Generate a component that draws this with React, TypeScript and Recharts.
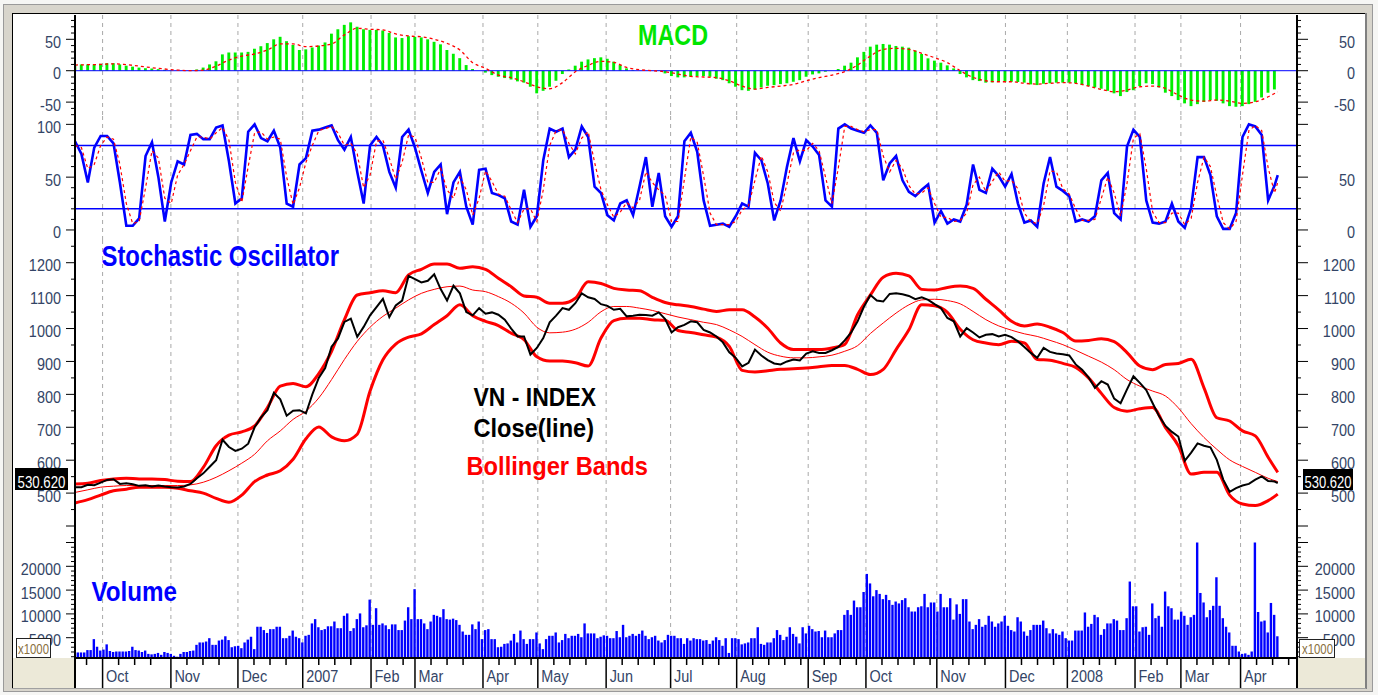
import React from 'react';
import { ComposedChart, Bar, Line, XAxis, YAxis, CartesianGrid, ReferenceLine } from 'recharts';

// x is the trading-session index, 0 = first session on the chart (Sep 2006)
const END_DAY = 375;
const DAY_MAX = 381;

const MONTH_DAYS = [8.6, 29.9, 50.8, 71.0, 92.3, 106.0, 127.2, 144.3, 165.6, 185.7, 206.3, 228.6, 246.6, 268.7, 290.1, 309.4, 330.5, 344.8, 363.4];
const MONTH_LABELS = ['Oct', 'Nov', 'Dec', '2007', 'Feb', 'Mar', 'Apr', 'May', 'Jun', 'Jul', 'Aug', 'Sep', 'Oct', 'Nov', 'Dec', '2008', 'Feb', 'Mar', 'Apr'];

// VN-Index close, every 2 sessions (last = final close)
const CLOSE = [
  518, 518, 525, 524, 532, 540, 542, 528, 530, 527, 522, 524, 520, 523, 520, 518, 517, 520, 528, 545,
  560, 580, 600, 662, 640, 628, 635, 650, 700, 730, 752, 805, 785, 735, 750, 752, 742, 800, 850, 880,
  945, 970, 1020, 1030, 975, 1005, 1040, 1065, 1090, 1035, 1070, 1085, 1160, 1150, 1140, 1145, 1165, 1120, 1085, 1130,
  1107, 1050, 1040, 1062, 1045, 1049, 1042, 1027, 1000, 976, 976, 921, 941, 971, 1019, 1039, 1062, 1057, 1077, 1107,
  1095, 1090, 1074, 1069, 1057, 1060, 1037, 1039, 1042, 1041, 1039, 1049, 1029, 988, 1004, 1011, 1022, 1019, 996, 988,
  976, 958, 928, 911, 885, 896, 936, 918, 904, 894, 891, 900, 906, 903, 924, 931, 926, 926, 934, 944,
  964, 988, 1022, 1067, 1102, 1085, 1082, 1105, 1107, 1104, 1099, 1089, 1095, 1087, 1074, 1062, 1032, 1022, 976, 1001,
  988, 973, 981, 983, 976, 981, 974, 961, 944, 926, 911, 941, 929, 924, 922, 918, 891, 875, 852, 820,
  840, 830, 787, 773, 815, 855, 835, 813, 773, 734, 704, 686, 672, 598, 623, 651, 644, 639, 601, 541,
  504, 515, 523, 528, 541, 551, 537, 535, 530.62,
];

// Bollinger bands, every 4 sessions
const BB_UPPER = [
  528, 530, 538, 543, 545, 543, 543, 541, 536, 535, 578, 644, 676, 686, 704, 760, 825, 833, 823, 863,
  931, 1027, 1102, 1109, 1115, 1109, 1163, 1180, 1196, 1196, 1183, 1188, 1180, 1153, 1127, 1099, 1095, 1077, 1077, 1092,
  1142, 1137, 1122, 1117, 1115, 1095, 1079, 1072, 1067, 1059, 1052, 1057, 1057, 1035, 1001, 956, 936, 936, 936, 941,
  952, 1042, 1102, 1156, 1168, 1160, 1119, 1117, 1125, 1129, 1122, 1089, 1057, 1022, 1008, 1014, 1004, 988, 962, 964,
  969, 960, 927, 886, 875, 891, 894, 907, 820, 729, 719, 689, 674, 609, 563,
];
const BB_MID = [
  502, 510, 518, 521, 523, 523, 523, 523, 523, 525, 533, 548, 568, 591, 618, 659, 689, 724, 749, 789,
  845, 906, 961, 1004, 1037, 1062, 1087, 1107, 1119, 1127, 1129, 1117, 1112, 1097, 1077, 1047, 1004, 987, 989, 998,
  1019, 1051, 1067, 1067, 1062, 1055, 1045, 1035, 1027, 1019, 1012, 996, 976, 951, 928, 916, 911, 911, 914, 919,
  931, 948, 985, 1017, 1047, 1072, 1087, 1089, 1085, 1075, 1052, 1027, 1008, 995, 984, 976, 964, 951, 934, 916,
  898, 875, 845, 825, 810, 795, 759, 711, 669, 633, 601, 581, 563, 545, 535,
];
const BB_LOWER = [
  470, 480, 494, 507, 512, 518, 518, 518, 515, 507, 500, 484, 472, 494, 535, 555, 568, 603, 665, 701,
  671, 659, 679, 810, 905, 953, 974, 984, 1012, 1039, 1072, 1039, 1022, 1009, 986, 966, 914, 901, 901, 896,
  886, 971, 1024, 1031, 1031, 1027, 1025, 994, 988, 981, 974, 946, 873, 868, 872, 876, 878, 880, 884, 888,
  888, 876, 860, 876, 936, 996, 1072, 1069, 1049, 998, 966, 956, 951, 961, 956, 906, 904, 894, 882, 850,
  803, 760, 749, 756, 760, 699, 644, 558, 563, 563, 494, 467, 462, 477, 497,
];

// MACD histogram, every 2 sessions
const MACD = [
  10, 10, 10, 10, 11, 12, 12, 10, 8, 6.5, 5, 4, 3.5, 2.5, 1.5, 0.5, 0, 0, 0.5, 2,
  5, 10, 15, 26, 29, 29, 29, 30, 35, 39, 44, 50, 54, 47, 41, 33, 34, 37, 40, 45,
  59, 66, 73, 77, 70, 66, 65, 65, 64, 60, 53, 52, 55, 54, 53, 50, 46, 42, 33, 27,
  20, 9, 2.7, 0, -3, -7, -9.6, -11.7, -13.8, -17, -19, -25.5, -36, -32, -25.5, -16, -5.3, 2, 8, 14.4,
  18, 20, 21.3, 19, 14.4, 9, 3.7, 1, 0, 0, 0, -0.5, -4.3, -8.5, -10.6, -10.6, -9.6, -8.5, -8.5, -9.6,
  -12.8, -15, -20, -25.5, -31, -32, -30, -26.6, -24, -23, -21.3, -20, -17.6, -15, -9.6, -5.9, -4.3, -1.6, 0, 2.7,
  8, 12.8, 21.3, 30, 38.3, 41.5, 42.6, 41.5, 39.4, 38.3, 36.7, 32, 26.6, 19.7, 16, 12.8, 8.5, 3.7, -5.3, -10.6,
  -15, -16.5, -19, -18.6, -17.6, -17.6, -17.6, -18, -19, -21.8, -22.9, -20.7, -20, -19, -19, -19, -20, -22.9, -24.5, -26.6,
  -28.7, -32, -36, -40.4, -34, -31, -24.5, -20, -21.3, -26.6, -35, -40.4, -46.8, -52, -56.4, -53.2, -49.5, -46.8, -47.9, -52,
  -56.4, -57.4, -56.4, -53.2, -49.5, -42.6, -35, -29.8,
];
// MACD signal, every 4 sessions
const MACD_SIGNAL = [
  9, 9.6, 10, 11, 9.6, 7.4, 4.8, 2.7, 1, 0, 1, 7.4, 17, 23.4, 26.6, 33, 42.6, 42.6, 38.3, 39.4,
  42.6, 57, 67.5, 66, 65, 58.5, 55.3, 54, 50, 43.6, 33, 12.8, 3.7, -7, -11, -17.6, -25.5, -28.7, -19, -1.6,
  8.5, 15, 13.3, 5.3, 1.6, 0, -1.6, -5.3, -9, -10, -11, -16, -24.5, -29.3, -26.6, -24.5, -21.8, -16, -11, -7,
  -1.6, 9, 23.4, 34, 35.6, 34, 27.7, 20.7, 12.8, 0, -10.6, -16, -17.6, -17.6, -20, -21.3, -20, -19, -20, -24.5,
  -29.8, -33.5, -30.9, -25.5, -24.5, -28.2, -38.8, -46.8, -48.4, -46.8, -48.4, -52, -49.5, -41.5, -33.5,
];

// Stochastic %K and %D, every 2 sessions
const STOCH_K = [
  84, 72, 45, 78, 89, 89, 82, 45, 4, 4, 11, 70, 83, 50, 8, 45, 65, 62, 90, 91,
  86, 86, 97, 99, 65, 25, 30, 93, 100, 87, 84, 94, 78, 25, 22, 62, 68, 94, 95, 97,
  99, 85, 76, 88, 55, 25, 80, 88, 80, 55, 40, 88, 95, 78, 56, 35, 55, 62, 15, 45,
  55, 22, 5, 57, 58, 35, 33, 30, 8, 5, 38, 3, 13, 66, 96, 93, 96, 69, 76, 98,
  88, 41, 35, 14, 9, 25, 28, 14, 41, 69, 22, 54, 13, 3, 13, 84, 92, 74, 28, 4,
  5, 6, 3, 13, 25, 22, 73, 66, 44, 9, 28, 60, 87, 65, 85, 79, 71, 28, 22, 96,
  100, 96, 94, 92, 99, 92, 47, 63, 70, 47, 36, 32, 38, 43, 7, 18, 6, 10, 8, 24,
  62, 38, 35, 58, 51, 41, 53, 25, 7, 9, 3, 44, 69, 41, 37, 32, 8, 10, 8, 13,
  47, 54, 16, 10, 79, 95, 88, 28, 7, 6, 8, 25, 8, 2, 21, 69, 69, 52, 13, 1,
  1, 16, 88, 100, 98, 90, 28, 42, 52,
];
const STOCH_D = [
  80, 78, 58, 62, 80, 88, 86, 62, 25, 6, 8, 40, 75, 68, 30, 25, 52, 62, 75, 88,
  88, 86, 92, 97, 85, 45, 26, 60, 92, 93, 86, 88, 86, 50, 24, 40, 64, 80, 94, 96,
  98, 92, 80, 82, 72, 40, 52, 84, 85, 68, 48, 64, 90, 88, 68, 45, 45, 58, 38, 30,
  50, 38, 14, 30, 56, 46, 34, 32, 19, 7, 20, 20, 8, 38, 80, 94, 95, 82, 72, 87,
  93, 64, 38, 24, 12, 17, 26, 21, 28, 55, 45, 38, 33, 8, 8, 48, 88, 83, 51, 16,
  5, 5, 5, 8, 19, 23, 47, 70, 55, 26, 18, 44, 73, 76, 75, 82, 75, 50, 25, 59,
  98, 98, 95, 93, 95, 95, 70, 55, 66, 58, 42, 34, 35, 40, 25, 12, 12, 8, 9, 16,
  43, 50, 36, 46, 55, 46, 47, 39, 16, 8, 6, 23, 56, 55, 39, 34, 20, 9, 9, 10,
  30, 50, 35, 13, 44, 87, 91, 58, 17, 7, 7, 16, 16, 5, 11, 45, 69, 60, 32, 7,
  1, 8, 52, 94, 99, 94, 59, 35, 45,
];

// daily volume, thousands of shares
const VOLUME = [
  2.8, 1.9, 1.9, 1.9, 2.4, 2.4, 4.7, 3.1, 2.3, 2.5, 3.6, 2.2, 2.0, 2.1, 2.1, 2.1, 2.1, 2.2, 3.1, 2.4,
  2.3, 2.0, 2.3, 1.6, 1.5, 1.6, 1.8, 1.4, 2.0, 1.8, 1.6, 1.2, 1.0, 1.6, 2.0, 2.0, 2.2, 2.3, 3.5, 4.0,
  4.0, 4.2, 4.9, 3.5, 3.5, 4.4, 4.6, 5.3, 4.5, 3.0, 3.2, 3.3, 2.8, 4.0, 4.6, 5.2, 2.6, 7.3, 7.3, 6.6,
  6.0, 6.8, 6.8, 7.3, 7.3, 4.9, 4.9, 5.4, 6.5, 5.2, 4.9, 4.0, 5.4, 5.6, 8.0, 8.9, 7.2, 6.6, 6.8, 7.4,
  7.4, 8.4, 7.0, 7.0, 9.6, 10.1, 6.4, 7.0, 8.9, 10.1, 7.2, 7.6, 13.0, 7.7, 11.2, 7.7, 8.0, 7.6, 6.8, 7.8,
  7.8, 6.6, 6.6, 8.6, 11.4, 8.9, 15.2, 8.9, 8.9, 8.0, 6.8, 8.4, 9.8, 9.6, 9.3, 11.0, 8.9, 8.8, 9.0, 8.7,
  7.7, 6.3, 5.6, 5.6, 7.8, 6.8, 8.4, 4.7, 6.6, 6.8, 4.7, 4.7, 3.0, 3.1, 3.7, 3.8, 4.4, 5.8, 4.0, 6.5,
  4.7, 3.7, 4.7, 4.7, 6.1, 3.8, 2.6, 4.7, 5.4, 5.4, 6.1, 4.0, 4.5, 5.8, 4.9, 5.4, 5.4, 5.8, 5.1, 8.0,
  5.9, 5.9, 5.9, 4.9, 5.2, 5.5, 5.4, 4.9, 4.9, 6.4, 5.1, 7.7, 5.1, 5.4, 5.8, 5.4, 5.8, 6.5, 5.4, 4.7,
  5.1, 5.4, 4.4, 4.0, 4.5, 5.6, 5.4, 5.4, 4.9, 4.9, 3.7, 4.9, 4.4, 4.9, 4.7, 4.7, 4.4, 4.5, 3.7, 4.4,
  5.1, 4.5, 3.3, 4.9, 1.8, 4.9, 4.9, 4.7, 3.6, 3.8, 4.0, 4.9, 4.9, 7.2, 3.7, 3.5, 4.0, 4.0, 4.9, 6.6,
  5.6, 4.5, 5.2, 7.2, 5.8, 5.2, 3.8, 7.2, 5.9, 7.5, 6.8, 6.3, 6.4, 5.1, 6.5, 5.1, 5.1, 5.9, 6.6, 6.6,
  9.8, 10.8, 9.8, 12.8, 11.4, 11.4, 14.6, 18.4, 16.4, 13.7, 15.0, 14.2, 13.1, 14.0, 12.9, 11.9, 12.6, 12.2, 12.9, 13.3,
  11.4, 10.5, 10.5, 11.4, 11.6, 14.2, 11.4, 12.4, 12.4, 10.5, 14.2, 11.4, 11.4, 13.3, 8.8, 12.0, 10.0, 13.1, 13.1, 8.4,
  6.8, 7.7, 8.9, 7.3, 7.7, 9.6, 8.4, 7.3, 8.0, 8.4, 9.6, 7.5, 6.6, 6.3, 9.3, 8.4, 6.3, 5.4, 6.6, 7.7,
  7.7, 7.7, 8.6, 7.0, 5.9, 6.8, 5.9, 5.6, 6.3, 4.9, 4.4, 4.4, 6.5, 6.5, 6.5, 10.3, 7.3, 7.9, 9.8, 9.3,
  5.6, 6.8, 8.0, 8.0, 8.9, 8.6, 6.6, 6.6, 9.1, 16.8, 11.6, 11.6, 6.3, 7.2, 7.3, 5.6, 12.2, 9.1, 9.6, 7.3,
  14.7, 11.6, 11.2, 8.8, 8.8, 10.5, 9.6, 7.7, 9.3, 9.8, 25.0, 14.4, 12.4, 9.3, 10.8, 11.7, 17.7, 11.7, 9.1, 7.3,
  6.1, 3.3, 3.3, 2.1, 1.6, 1.7, 1.4, 2.1, 25.0, 10.4, 8.4, 8.6, 6.1, 12.3, 9.8, 5.3,
];

const LAST_CLOSE = '530.620';

const FONT = 'Liberation Sans, Arial, sans-serif';
const TICK_COLOR = '#334466';

const series = (values: number[], step: number, scale = 1) =>
  values.map((v, i) => ({ d: Math.min(i * step, END_DAY), v: v * scale }));

const range = (a: number, b: number, s: number) => {
  const out: number[] = [];
  for (let i = 0; a + i * s <= b; i++) out.push(a + i * s);
  return out;
};

const closeData = series(CLOSE, 2);
const upperData = series(BB_UPPER, 4);
const midData = series(BB_MID, 4);
const lowerData = series(BB_LOWER, 4);
const macdData = series(MACD, 2);
const signalData = series(MACD_SIGNAL, 4);
const kData = series(STOCH_K, 2);
const dData = series(STOCH_D, 2);
const volData = series(VOLUME, 1, 1000);

const weekTicks = (() => {
  const out = [3.6];
  const bounds = [...MONTH_DAYS, DAY_MAX];
  MONTH_DAYS.forEach((m, i) => {
    for (let t = m + 5; t < bounds[i + 1] - 1.5; t += 5) out.push(t);
  });
  return out;
})();
const X_TICKS = [...MONTH_DAYS, ...weekTicks].sort((a, b) => a - b);

const MACD_AXIS = { domain: [-72.1, 88.7], ticks: range(-70, 80, 10), majors: [-50, 0, 50], left: [-50, 0, 50], right: [-50, 0, 50] };
const STOCH_AXIS = { domain: [-9.5, 107.9], ticks: range(0, 100, 10), majors: [0, 50, 100], left: [0, 50, 100], right: [0, 50] };
const PRICE_AXIS = { domain: [372.7, 1269], ticks: range(400, 1250, 50), majors: range(400, 1200, 100), left: range(500, 1200, 100), right: range(500, 1200, 100) };
const VOL_AXIS = { domain: [735, 26575], ticks: range(1000, 26000, 1000), majors: range(5000, 25000, 5000), left: range(5000, 20000, 5000), right: range(5000, 20000, 5000) };

const yTick = (side: 'left' | 'right', majors: number[], labels: number[]) => (p: any) => {
  const { x, y, payload } = p;
  const v = payload.value;
  const dir = side === 'left' ? -1 : 1;
  const len = majors.includes(v) ? (side === 'left' ? 9 : 11) : 4;
  const tx = side === 'left' ? x - 14 : x + 58;
  return (
    <g>
      <line x1={x} y1={y} x2={x + dir * len} y2={y} stroke="#000" />
      {labels.includes(v) && (
        <text transform={`translate(${tx} ${y + 8.5}) scale(0.85 1)`} textAnchor="end" fontSize={17} fontFamily={FONT} fill={TICK_COLOR}>
          {v}
        </text>
      )}
    </g>
  );
};

const xTick = (p: any) => {
  const { x, y, payload } = p;
  const i = MONTH_DAYS.indexOf(payload.value);
  if (i < 0) return <line x1={x} y1={y} x2={x} y2={y + 7} stroke="#000" strokeWidth={1.5} />;
  return (
    <g>
      <line x1={x} y1={y} x2={x} y2={y + 30} stroke="#000" strokeWidth={1.5} />
      <text transform={`translate(${x + 3.5} ${y + 24}) scale(0.85 1)`} fontSize={17} fontFamily={FONT} fill={TICK_COLOR}>
        {MONTH_LABELS[i]}
      </text>
    </g>
  );
};

const MARGIN = { top: 0, right: 21, bottom: 0, left: 15 };

function Panel({ top, height, axis, data, extraAxis, children }: any) {
  return (
    <ComposedChart width={1378} height={height} data={data} margin={MARGIN} style={{ position: 'absolute', left: 0, top }}>
      <XAxis xAxisId="g" orientation="top" type="number" dataKey="d" domain={[0, DAY_MAX]} ticks={MONTH_DAYS} hide allowDataOverflow />
      {extraAxis}
      <YAxis
        yAxisId="l" type="number" domain={axis.domain} ticks={axis.ticks} interval={0} allowDataOverflow width={60}
        axisLine={{ stroke: '#000', strokeWidth: 2 }} tickLine={false} tickSize={0} tickMargin={0}
        tick={yTick('left', axis.majors, axis.left)}
      />
      <YAxis
        yAxisId="r" orientation="right" type="number" domain={axis.domain} ticks={axis.ticks} interval={0} allowDataOverflow width={60}
        axisLine={{ stroke: '#000', strokeWidth: 2 }} tickLine={false} tickSize={0} tickMargin={0}
        tick={yTick('right', axis.majors, axis.right)}
      />
      <CartesianGrid xAxisId="g" yAxisId="l" horizontal={false} stroke="#a9a9a9" strokeDasharray="4 4" />
      {children}
    </ComposedChart>
  );
}

const lineProps = { xAxisId: 'g', yAxisId: 'l', dataKey: 'v', dot: false, activeDot: false, isAnimationActive: false } as const;

const bigLabel = (text: string, x: number, y: number, size: number, len: number, fill: string) => (
  <text x={x} y={y} fontSize={size} fontWeight="bold" fontFamily={FONT} fill={fill} textLength={len} lengthAdjust="spacingAndGlyphs">
    {text}
  </text>
);

export default function App() {
  return (
    <div style={{ position: 'relative', width: 1378, height: 695, overflow: 'hidden' }}>
      <style>{'body{margin:0} .recharts-surface{overflow:visible}'}</style>
      <svg width={1378} height={695} style={{ position: 'absolute', left: 0, top: 0 }}>
        <rect x={0} y={0} width={1378} height={695} fill="#f6f6f4" />
        <rect x={3.5} y={4.5} width={1369} height={687} fill="#d8d5cc" stroke="#9a9a9a" />
        <rect x={12} y={13} width={1354} height={675} fill="#ffffff" />
        <rect x={12} y={658} width={63} height={30} fill="#ece9d8" />
        <rect x={1298} y={658} width={68} height={30} fill="#ece9d8" />
        <line x1={12} y1={13.5} x2={1366} y2={13.5} stroke="#000" />
        <line x1={12.5} y1={13} x2={12.5} y2={688} stroke="#000" />
        <line x1={1366} y1={13} x2={1366} y2={689} stroke="#808080" strokeWidth={2} />
        <line x1={12} y1={688.5} x2={1366} y2={688.5} stroke="#a0a0a0" />
      </svg>

      <Panel top={15} height={101} axis={MACD_AXIS} data={macdData}>
        <Bar xAxisId="g" yAxisId="l" dataKey="v" fill="#00ee00" barSize={5.4} isAnimationActive={false} />
        <ReferenceLine xAxisId="g" yAxisId="l" y={0} stroke="#0000ff" strokeWidth={1} />
        <Line {...lineProps} data={signalData} type="monotone" stroke="#ff0000" strokeWidth={1.3} strokeDasharray="3 3" />
      </Panel>

      <Panel top={116} height={124} axis={STOCH_AXIS} data={kData}>
        <ReferenceLine xAxisId="g" yAxisId="l" y={80} stroke="#0000ff" strokeWidth={1.5} />
        <ReferenceLine xAxisId="g" yAxisId="l" y={20} stroke="#0000ff" strokeWidth={1.5} />
        <Line {...lineProps} type="linear" stroke="#0000ff" strokeWidth={2.6} />
        <Line {...lineProps} data={dData} type="linear" stroke="#ff0000" strokeWidth={1.2} strokeDasharray="3 3" />
      </Panel>

      <Panel top={240} height={295} axis={PRICE_AXIS} data={closeData}>
        <Line {...lineProps} data={midData} type="monotone" stroke="#ff0000" strokeWidth={1} />
        <Line {...lineProps} data={upperData} type="monotone" stroke="#ff0000" strokeWidth={3} />
        <Line {...lineProps} data={lowerData} type="monotone" stroke="#ff0000" strokeWidth={3} />
        <Line {...lineProps} type="linear" stroke="#000000" strokeWidth={2} />
      </Panel>

      <Panel
        top={535}
        height={155}
        axis={VOL_AXIS}
        data={volData}
        extraAxis={
          <XAxis
            xAxisId="t" type="number" dataKey="d" domain={[0, DAY_MAX]} ticks={X_TICKS} interval={0} allowDataOverflow height={32}
            axisLine={{ stroke: '#000', strokeWidth: 2 }} tickLine={false} tickSize={0} tickMargin={0} tick={xTick}
          />
        }
      >
        <Bar xAxisId="t" yAxisId="l" dataKey="v" fill="#0000ff" barSize={2.4} isAnimationActive={false} />
      </Panel>

      <svg width={1378} height={695} style={{ position: 'absolute', left: 0, top: 0, pointerEvents: 'none' }}>
        <line x1={75} y1={658} x2={75} y2={688} stroke="#000" strokeWidth={2} />
        <line x1={1297} y1={658} x2={1297} y2={688} stroke="#000" strokeWidth={2} />

        {bigLabel('MACD', 638, 45, 29, 70, '#00e600')}
        {bigLabel('Stochastic Oscillator', 101.5, 265.5, 30, 237.5, '#0000ff')}
        {bigLabel('VN - INDEX', 473.5, 405.5, 26.5, 122.5, '#000000')}
        {bigLabel('Close(line)', 473.5, 437, 26.5, 120.5, '#000000')}
        {bigLabel('Bollinger Bands', 466.5, 475, 26.5, 181.5, '#ff0000')}
        {bigLabel('Volume', 91.5, 601, 27, 85.5, '#0000ff')}

        <rect x={15} y={468} width={53} height={22} fill="#000" />
        <text x={41.5} y={487.5} textAnchor="middle" fontSize={16.5} fontFamily={FONT} fill="#fff" textLength={48} lengthAdjust="spacingAndGlyphs">
          {LAST_CLOSE}
        </text>
        <rect x={1303} y={469} width={50} height={21} fill="#000" />
        <text x={1328} y={487.5} textAnchor="middle" fontSize={16.5} fontFamily={FONT} fill="#fff" textLength={47} lengthAdjust="spacingAndGlyphs">
          {LAST_CLOSE}
        </text>

        <rect x={16.5} y={638.5} width={34} height={19} fill="#fff" stroke="#222" />
        <text x={18} y={654} fontSize={14.5} fontFamily={FONT} fill="#8a7040" textLength={31} lengthAdjust="spacingAndGlyphs">x1000</text>
        <rect x={1299.5} y={639.5} width={35} height={18} fill="#fff" stroke="#222" />
        <text x={1302} y={654} fontSize={14.5} fontFamily={FONT} fill="#8a7040" textLength={31} lengthAdjust="spacingAndGlyphs">x1000</text>
      </svg>
    </div>
  );
}
